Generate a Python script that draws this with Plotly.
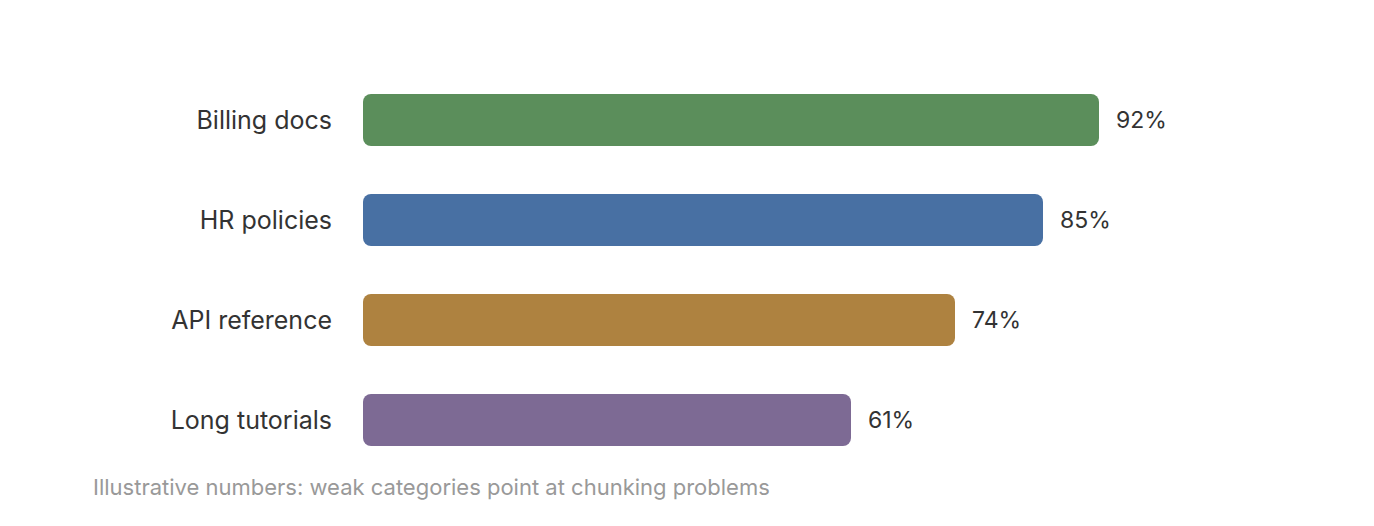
import plotly.graph_objects as go

# Data
categories = ["Billing docs", "HR policies", "API reference", "Long tutorials"]
scores = [92, 85, 74, 61]
bar_colors = ["#5B8E5B", "#4870A3", "#AE8240", "#7D6A94"]
caption = "Illustrative numbers: weak categories point at chunking problems"

fig = go.Figure()

# an explicit base makes plotly round both ends of the bar
fig.add_trace(go.Bar(
    y=categories,
    x=scores,
    base=[0] * len(scores),
    orientation="h",
    marker=dict(color=bar_colors, cornerradius=8, line=dict(width=0)),
    width=0.52,
    hoverinfo="skip",
))

# value labels
for cat, v in zip(categories, scores):
    fig.add_annotation(
        x=v, y=cat, text=f"{v}%",
        xanchor="left", yanchor="middle", xshift=15,
        showarrow=False,
        font=dict(size=23, color="#333333"),
    )

fig.add_annotation(
    text=caption,
    xref="paper", yref="paper",
    x=-0.34, y=-0.0425,
    xanchor="left", yanchor="middle",
    showarrow=False,
    font=dict(size=22, color="#999999"),
)

fig.update_layout(
    width=1358, height=510,
    margin=dict(l=355, r=203, t=62, b=48),
    paper_bgcolor="white",
    plot_bgcolor="white",
    showlegend=False,
    font=dict(family="Inter", size=22, color="#333333"),
)

fig.update_xaxes(range=[0, 100], visible=False)
fig.update_yaxes(
    autorange="reversed",
    showgrid=False, zeroline=False, showline=False,
    ticks="", ticklabelstandoff=30,
    tickfont=dict(size=25, color="#333333"),
)

fig.write_html("out.html")
